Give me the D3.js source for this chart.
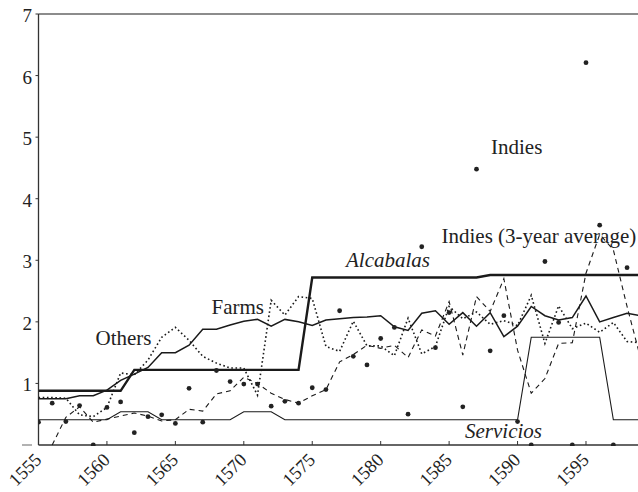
<!DOCTYPE html>
<html>
<head>
<meta charset="utf-8">
<script src="https://cdn.jsdelivr.net/npm/d3@7"></script>
<style>
  html, body { margin: 0; padding: 0; background: #fff; }
  svg { display: block; }
  text { font-family: "Liberation Serif", "Times New Roman", serif; fill: #222; }
</style>
</head>
<body>
<svg id="chart" width="638" height="492"></svg>
<script>
// ---- data ----
const years = [1555,1556,1557,1558,1559,1560,1561,1562,1563,1564,1565,1566,1567,1568,1569,
  1570,1571,1572,1573,1574,1575,1576,1577,1578,1579,1580,1581,1582,1583,1584,
  1585,1586,1587,1588,1589,1590,1591,1592,1593,1594,1595,1596,1597,1598,1599];

const alcabalas = [0.88,0.88,0.88,0.88,0.88,0.88,0.88,
  1.22,1.22,1.22,1.22,1.22,1.22,1.22,1.22,1.22,1.22,1.22,1.22,1.22,
  2.72,2.72,2.72,2.72,2.72,2.72,2.72,2.72,2.72,2.72,2.72,2.72,2.72,
  2.76,2.76,2.76,2.76,2.76,2.76,2.76,2.76,2.76,2.76,2.76,2.76];

const servicios = [0.41,0.41,0.41,0.41,0.41,0.41,
  0.54,0.54,0.54,
  0.41,0.41,0.41,0.41,0.41,0.41,
  0.54,0.54,0.54,
  0.41,0.41,0.41,0.41,0.41,0.41,0.41,0.41,0.41,0.41,0.41,0.41,0.41,0.41,0.41,0.41,0.41,0.41,
  1.75,1.75,1.75,1.75,1.75,1.75,
  0.41,0.41,0.41];

const farms = [0.75,0.75,0.75,0.80,0.80,0.89,1.05,1.15,1.26,1.50,1.50,1.62,1.88,1.88,1.95,
  2.01,2.04,1.93,2.04,2.00,1.94,2.03,2.05,2.07,2.08,2.10,1.92,1.86,2.14,2.18,
  1.96,2.15,1.93,2.15,1.76,1.93,2.25,2.10,2.03,2.07,2.42,2.00,2.07,2.14,2.10];

const others = [0.77,0.77,0.76,0.49,0.46,0.61,1.17,1.14,1.38,1.75,1.91,1.70,1.44,1.33,1.25,
  1.25,0.81,2.35,2.11,2.41,2.38,1.60,1.52,2.01,1.61,1.61,1.45,2.06,1.48,1.60,
  2.25,2.05,2.16,1.96,2.02,1.94,2.43,1.65,2.26,1.89,1.98,1.83,1.99,1.68,1.66];

const indiesAvg = [null,0.00,0.45,0.62,0.37,0.42,0.47,0.52,0.47,0.39,0.41,0.58,0.55,0.83,0.88,
  1.10,1.00,0.84,0.74,0.68,0.80,0.90,1.35,1.47,1.62,1.57,1.62,1.42,1.87,1.77,
  2.33,1.46,2.41,2.17,2.70,1.54,0.84,1.08,1.65,1.66,2.79,3.42,3.17,2.25,1.40];

const indies = [0.37,0.68,0.38,0.64,0.00,0.61,0.70,0.20,0.46,0.49,0.35,0.92,0.37,1.21,1.03,
  0.99,0.99,0.63,0.71,0.68,0.93,0.90,2.18,1.44,1.30,1.73,1.91,0.50,3.22,1.58,
  2.15,0.62,4.48,1.53,2.10,0.38,0.00,2.98,1.99,0.00,6.21,3.57,0.00,2.88,null];

const xTicks = [1555,1560,1565,1570,1575,1580,1585,1590,1595];
const yTicks = [1,2,3,4,5,6,7];

// ---- chart ----
const svg = d3.select("#chart");
const x = d3.scaleLinear().domain([1555, 1598.8]).range([38.5, 638]);
const y = d3.scaleLinear().domain([0, 7]).range([445, 14]);

const defs = svg.append("defs");
defs.append("clipPath").attr("id", "plotclip")
  .append("rect").attr("x", 38.5).attr("y", 0).attr("width", 600).attr("height", 446);

// frame
svg.append("line").attr("x1", x(1555)).attr("x2", 638).attr("y1", y(7)).attr("y2", y(7))
  .attr("stroke", "#666").attr("stroke-width", 1.3);
svg.append("line").attr("x1", x(1555)).attr("x2", x(1555)).attr("y1", y(7)).attr("y2", y(0))
  .attr("stroke", "#333").attr("stroke-width", 1.3);
svg.append("line").attr("x1", x(1555)).attr("x2", 638).attr("y1", y(0)).attr("y2", y(0))
  .attr("stroke", "#333").attr("stroke-width", 1.3);

// y ticks
const yg = svg.append("g");
yTicks.forEach(t => {
  yg.append("line").attr("x1", x(1555) - 3).attr("x2", x(1555)).attr("y1", y(t)).attr("y2", y(t))
    .attr("stroke", "#333").attr("stroke-width", 1);
  yg.append("text").attr("x", 32).attr("y", y(t) + 8).attr("text-anchor", "end")
    .attr("font-size", 19).text(t);
});
// zero marker (grey dash)
yg.append("line").attr("x1", 22).attr("x2", 32).attr("y1", y(0)).attr("y2", y(0))
  .attr("stroke", "#999").attr("stroke-width", 1.5);

// x ticks
const xg = svg.append("g");
xTicks.forEach(t => {
  xg.append("line").attr("x1", x(t)).attr("x2", x(t)).attr("y1", y(0)).attr("y2", y(0) - 4)
    .attr("stroke", "#333").attr("stroke-width", 1);
  xg.append("text").attr("transform", `translate(${x(t) + 4},${y(0) + 16}) rotate(-45)`)
    .attr("text-anchor", "end").attr("font-size", 18.5).text(t);
});

const plot = svg.append("g").attr("clip-path", "url(#plotclip)");

function drawLine(vals, opts) {
  const line = d3.line()
    .defined((d, i) => vals[i] !== null)
    .x((d, i) => x(years[i]))
    .y((d, i) => y(vals[i]));
  plot.append("path").datum(vals).attr("d", line)
    .attr("fill", "none").attr("stroke", opts.color || "#1a1a1a")
    .attr("stroke-width", opts.width)
    .attr("stroke-dasharray", opts.dash || null)
    .attr("stroke-linejoin", "miter");
}

drawLine(servicios, { width: 1.1 });
drawLine(indiesAvg, { width: 1.1, dash: "5,4" });
drawLine(others, { width: 1.6, dash: "1.6,2.6" });
drawLine(farms, { width: 1.5 });
drawLine(alcabalas, { width: 2.4 });

plot.selectAll("circle.indies")
  .data(indies.map((v, i) => ({ yr: years[i], v })).filter(d => d.v !== null))
  .enter().append("circle").attr("class", "indies")
  .attr("cx", d => x(d.yr)).attr("cy", d => y(d.v)).attr("r", 2.4)
  .attr("fill", "#222");

// labels
const labels = [
  { t: "Indies", x: 491, y: 154, it: false },
  { t: "Indies (3-year average)", x: 441.5, y: 243, it: false },
  { t: "Alcabalas", x: 346, y: 267, it: true },
  { t: "Farms", x: 211.5, y: 314, it: false },
  { t: "Others", x: 95.5, y: 345, it: false },
  { t: "Servicios", x: 465, y: 438, it: true }
];
svg.selectAll("text.lbl").data(labels).enter().append("text").attr("class", "lbl")
  .attr("x", d => d.x).attr("y", d => d.y)
  .attr("font-size", 21).attr("font-style", d => d.it ? "italic" : "normal")
  .text(d => d.t);
</script>
</body>
</html>
